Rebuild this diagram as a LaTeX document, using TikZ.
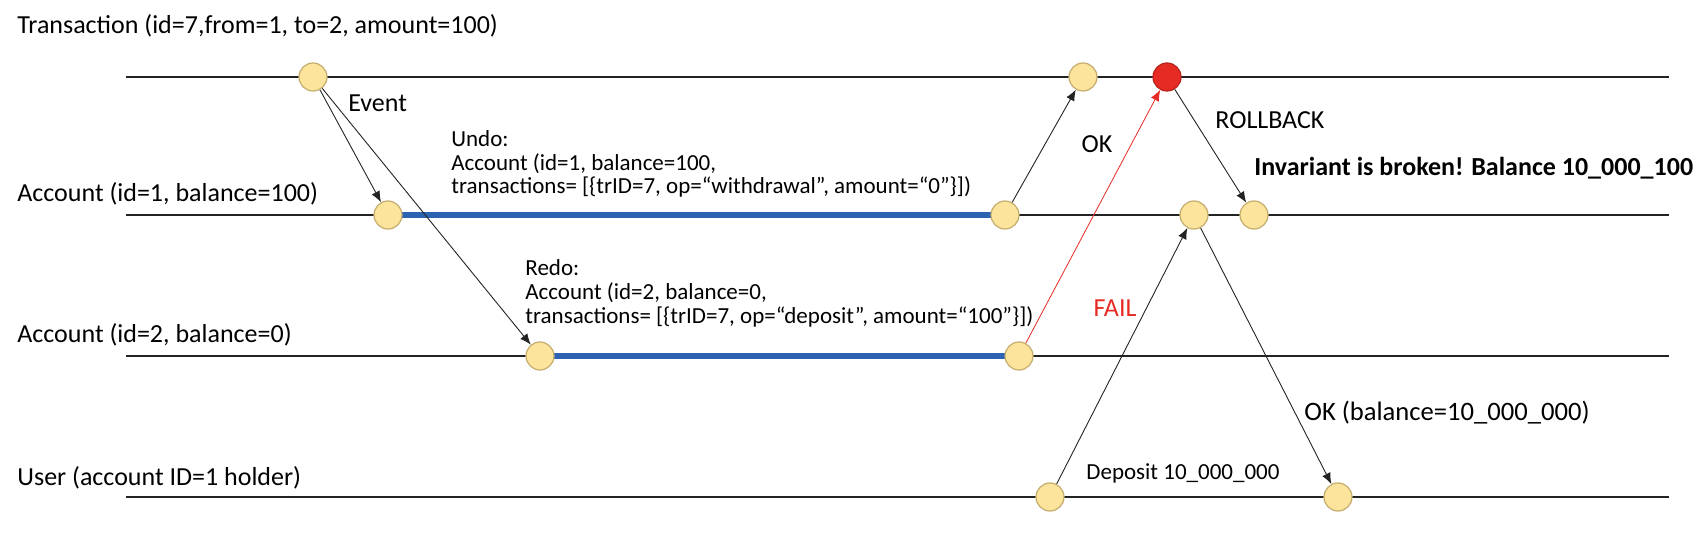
\documentclass[tikz,border=0pt]{standalone}
\usepackage{fontspec}
\setmainfont{Carlito}
\usetikzlibrary{arrows.meta}
\definecolor{dotfill}{RGB}{253,228,156}
\definecolor{dotline}{RGB}{196,172,108}
\definecolor{failred}{RGB}{230,42,36}
\definecolor{laneblue}{RGB}{44,98,178}
\definecolor{inkgray}{RGB}{35,35,35}

\tikzset{
  lane/.style={line width=1.1pt, inkgray},
  dot/.style={circle, draw=dotline, fill=dotfill, line width=0.6pt, minimum size=14pt, inner sep=0pt},
  msg/.style={-{Latex[length=5.5pt,width=4.5pt]}, line width=0.45pt, inkgray},
  stretch/.style={line width=2.8pt, laneblue},
  big/.style={font=\fontsize{13}{15}\selectfont},
  small/.style={font=\fontsize{11.5}{12}\selectfont},
}

\begin{document}
\begin{tikzpicture}[x=0.5pt,y=-0.5pt, every node/.style={inner sep=0pt}]
  \useasboundingbox (0,0) rectangle (1705,551);

  % lifelines
  \foreach \n/\y in {tr/77, aa/215, ab/356, us/497} {
    \coordinate (\n-l) at (126,\y);
    \coordinate (\n-r) at (1669,\y);
    \draw[lane] (\n-l) -- (\n-r);
  }

  \node[big, anchor=base west] (trlabel) at (17,34) {Transaction (id=7,from=1, to=2, amount=100)};
  \node[big, anchor=base west] (aalabel) at (17,202) {Account (id=1, balance=100)};
  \node[big, anchor=base west] (ablabel) at (17,343) {Account (id=2, balance=0)};
  \node[big, anchor=base west] (uslabel) at (17,485) {User (account ID=1 holder)};

  % blue stretches
  \draw[stretch] (388,215) -- (1005,215);
  \draw[stretch] (540,356) -- (1019,356);

  % events
  \node[dot] (tstart) at (313,77) {};
  \node[dot] (tok) at (1083,77) {};
  \node[dot, fill=failred, draw=failred!80!black] (tfail) at (1167,77) {};
  \node[dot] (aundo) at (388,215) {};
  \node[dot] (aokay) at (1005,215) {};
  \node[dot] (adep) at (1194,215) {};
  \node[dot] (aroll) at (1254,215) {};
  \node[dot] (bredo) at (540,356) {};
  \node[dot] (bfail) at (1019,356) {};
  \node[dot] (ustart) at (1050,497) {};
  \node[dot] (udone) at (1338,497) {};

  \draw[msg] (tstart) -- (aundo);
  \draw[msg] (tstart) -- (bredo);
  \draw[msg] (aokay) -- (tok);
  \draw[msg, failred, line width=0.4pt] (bfail) -- (tfail);
  \draw[msg] (tfail) -- (aroll);
  \draw[msg] (ustart) -- (adep);
  \draw[msg] (adep) -- (udone);

  % labels
  \node[big, anchor=base west] (evlabel) at (348,112) {Event};
  \node[small, anchor=base west, align=left] (undolabel) at (451,194)
    {Undo:\\Account (id=1, balance=100,\\transactions= [\{trID=7, op=“withdrawal”, amount=“0”\}])};
  \node[small, anchor=base west, align=left] (redolabel) at (525,323)
    {Redo:\\Account (id=2, balance=0,\\transactions= [\{trID=7, op=“deposit”, amount=“100”\}])};
  \node[big, anchor=base] (oklabel) at (1097,153) {OK};
  \node[big, anchor=base west] (rblabel) at (1215,129) {ROLLBACK};
  \node[big, anchor=base west, font=\fontsize{13}{15}\selectfont\bfseries] (invlabel) at (1254,176) {Invariant is broken! Balance 10\_000\_100};
  \node[big, anchor=base, text=failred] (faillabel) at (1115,316) {FAIL};
  \node[big, anchor=base west, font=\fontsize{13.3}{15}\selectfont] (baldone) at (1304,420) {OK (balance=10\_000\_000)};
  \node[small, anchor=base west] (deplabel) at (1086,479) {Deposit 10\_000\_000};
\end{tikzpicture}
\end{document}
